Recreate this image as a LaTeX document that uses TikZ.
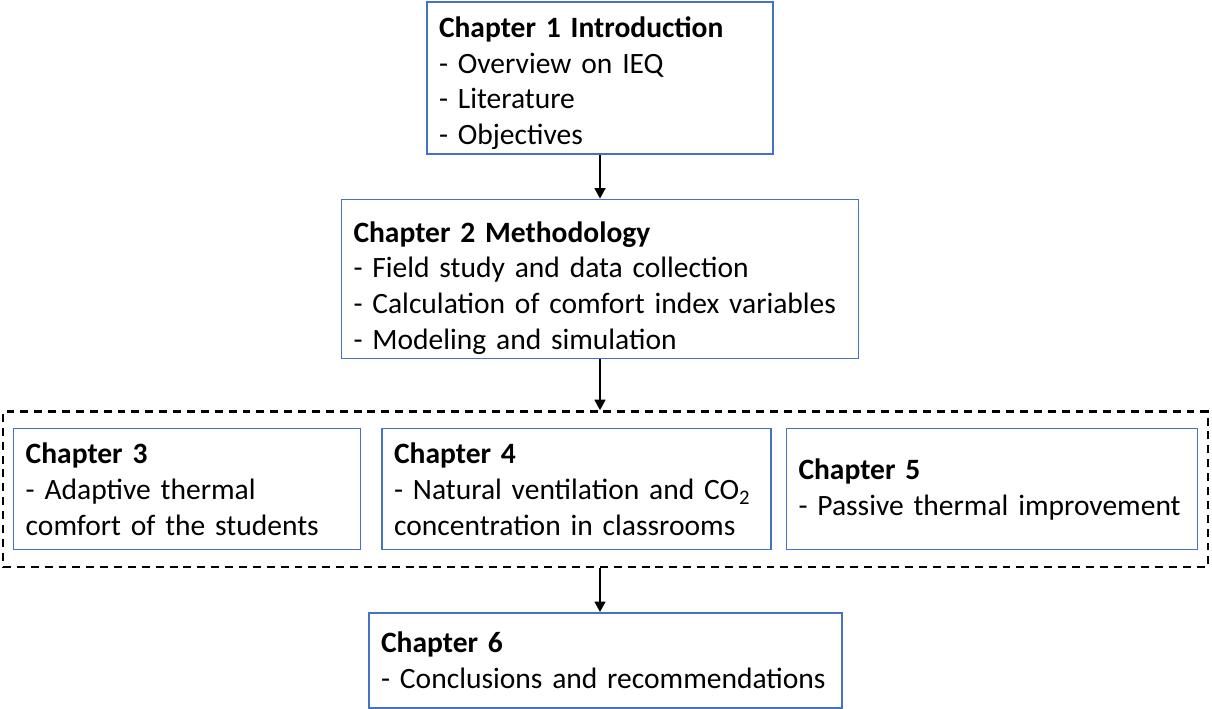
\documentclass[tikz,border=0pt]{standalone}
\usepackage{fontspec}
\setmainfont{Carlito}
\usetikzlibrary{arrows.meta,positioning,fit}
\definecolor{boxblue}{RGB}{68,114,196}

\begin{document}
\begin{tikzpicture}[->,>={Triangle[length=6pt,width=6pt]},line width=1.6pt,node distance=0.88cm,
  chapter box/.style={draw=boxblue,line width=0.8pt,rectangle,align=left,inner xsep=0.24cm,inner ysep=0pt,
    font=\fontsize{16.8}{20.4}\selectfont},
  frame box/.style={draw,dashed,line width=1.4pt,dash pattern=on 4.5pt off 3.4pt,inner xsep=0.2cm,inner ysep=0.33cm}]

  \useasboundingbox (0,0) rectangle (24.24,-14.18);

  \node[chapter box,text width=6.44cm,minimum height=3.04cm] (ch1) at (12.0,-1.56)
    {\rule{0pt}{0.62cm}\textbf{Chapter 1 Introduction}\\- Overview on IEQ\\- Literature\\- Objectives};
  \node[chapter box,text width=9.86cm,minimum height=3.18cm] (ch2) [below=of ch1]
    {\rule{0pt}{0.78cm}\textbf{Chapter 2 Methodology}\\- Field study and data collection\\- Calculation of comfort index variables\\- Modeling and simulation};

  \node[chapter box,text width=6.46cm,minimum height=2.42cm,anchor=north west] (ch3) at (0.26,-8.56)
    {\textbf{Chapter 3}\\- Adaptive thermal\\comfort of the students};
  \node[chapter box,text width=7.30cm,minimum height=2.42cm] (ch4) [right=0.40cm of ch3]
    {\textbf{Chapter 4}\\- Natural ventilation and CO\textsubscript{2}\\concentration in classrooms};
  \node[chapter box,text width=7.74cm,minimum height=2.42cm] (ch5) [right=0.28cm of ch4]
    {\textbf{Chapter 5}\\- Passive thermal improvement};
  \node[frame box,fit=(ch3)(ch4)(ch5)] (results) {};

  \node[chapter box,text width=8.98cm,minimum height=1.9cm] (ch6) [below=of results]
    {\textbf{Chapter 6}\\- Conclusions and recommendations};

  \draw (ch1.south) -- (ch2.north);
  \draw (ch2.south) -- (ch2.south |- results.north);
  \draw (ch2.south |- results.south) -- (ch2.south |- ch6.north);
\end{tikzpicture}
\end{document}
